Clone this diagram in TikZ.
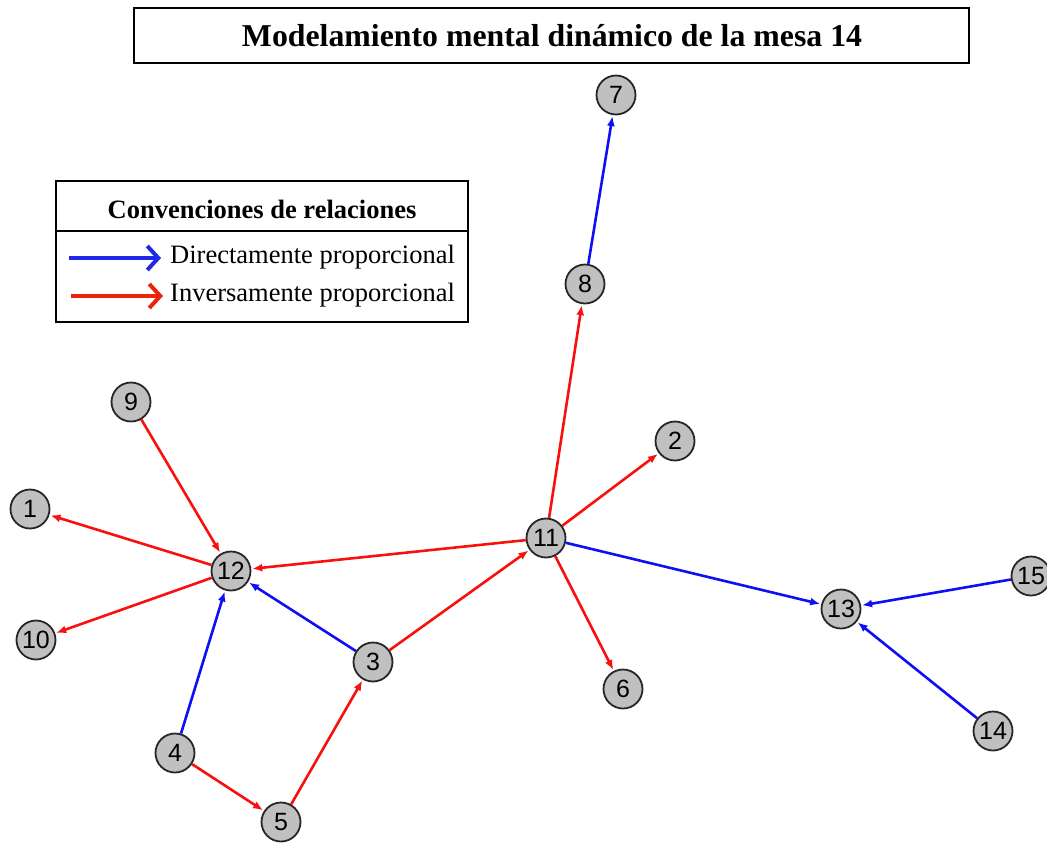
\documentclass[tikz,border=0pt]{standalone}
\usepackage{fontspec}
\setmainfont{Liberation Serif}
\newfontfamily\nodefont{Liberation Sans}
\usetikzlibrary{arrows.meta}
\definecolor{eblue}{RGB}{15,15,245}
\definecolor{ered}{RGB}{250,15,15}
\definecolor{lblue}{RGB}{30,40,230}
\definecolor{lred}{RGB}{235,35,10}
\definecolor{ngray}{RGB}{192,192,192}
\tikzset{
  vnode/.style={circle,draw=black!85,line width=1.8pt,fill=ngray,minimum size=39pt,inner sep=0pt,font=\nodefont\fontsize{25}{25}\selectfont},
  edge/.style={line width=2.6pt,-{Latex[length=10pt,width=8pt]},shorten >=1pt},
  dp/.style={edge,eblue},
  ip/.style={edge,ered},
  legarrow/.style={line width=4pt,-{Straight Barb[length=11pt,width=24pt,line width=4pt]}}
}
\begin{document}
\begin{tikzpicture}[x=1pt,y=-1pt]
\useasboundingbox (0,0) rectangle (1047,844);
\clip (0,0) rectangle (1047,844);
% title
\draw[line width=2pt] (134,8) rectangle (969,63);
\node (title) at (552,36) {\bfseries\fontsize{31.8}{32}\selectfont Modelamiento mental din\'amico de la mesa 14};
% legend
\draw[line width=2pt] (56,181) rectangle (468,322);
\draw[line width=2.4pt] (56,231) -- (468,231);
\node (legtitle) at (262,209) {\bfseries\fontsize{26.5}{27}\selectfont Convenciones de relaciones};
\coordinate (lb1) at (69,258);
\coordinate (lb2) at (161,258);
\coordinate (lr1) at (71,296);
\coordinate (lr2) at (163,296);
\draw[legarrow,lblue] (lb1) -- (lb2);
\draw[legarrow,lred] (lr1) -- (lr2);
\node[anchor=west,inner sep=0pt] (legd) at (170,257) {\fontsize{26.5}{27}\selectfont Directamente proporcional};
\node[anchor=west,inner sep=0pt] (legi) at (170,295) {\fontsize{26.5}{27}\selectfont Inversamente proporcional};
% nodes
\node[vnode] (n7) at (616,95) {7};
\node[vnode] (n8) at (585,284) {8};
\node[vnode] (n9) at (131,402) {9};
\node[vnode] (n2) at (675,441) {2};
\node[vnode] (n1) at (30,509) {1};
\node[vnode] (n11) at (546,538) {11};
\node[vnode] (n12) at (231,571) {12};
\node[vnode] (n10) at (36,640) {10};
\node[vnode] (n15) at (1031,576) {15};
\node[vnode] (n13) at (841,609) {13};
\node[vnode] (n3) at (373,662) {3};
\node[vnode] (n6) at (623,689) {6};
\node[vnode] (n14) at (993,731) {14};
\node[vnode] (n4) at (175,753) {4};
\node[vnode] (n5) at (281,822) {5};
% edges
\draw[dp] (n8) -- (n7);
\draw[dp] (n11) -- (n13);
\draw[dp] (n15) -- (n13);
\draw[dp] (n14) -- (n13);
\draw[dp] (n3) -- (n12);
\draw[dp] (n4) -- (n12);
\draw[ip] (n11) -- (n8);
\draw[ip] (n11) -- (n2);
\draw[ip] (n11) -- (n6);
\draw[ip] (n11) -- (n12);
\draw[ip] (n9) -- (n12);
\draw[ip] (n12) -- (n1);
\draw[ip] (n12) -- (n10);
\draw[ip] (n3) -- (n11);
\draw[ip] (n4) -- (n5);
\draw[ip] (n5) -- (n3);
\end{tikzpicture}
\end{document}
